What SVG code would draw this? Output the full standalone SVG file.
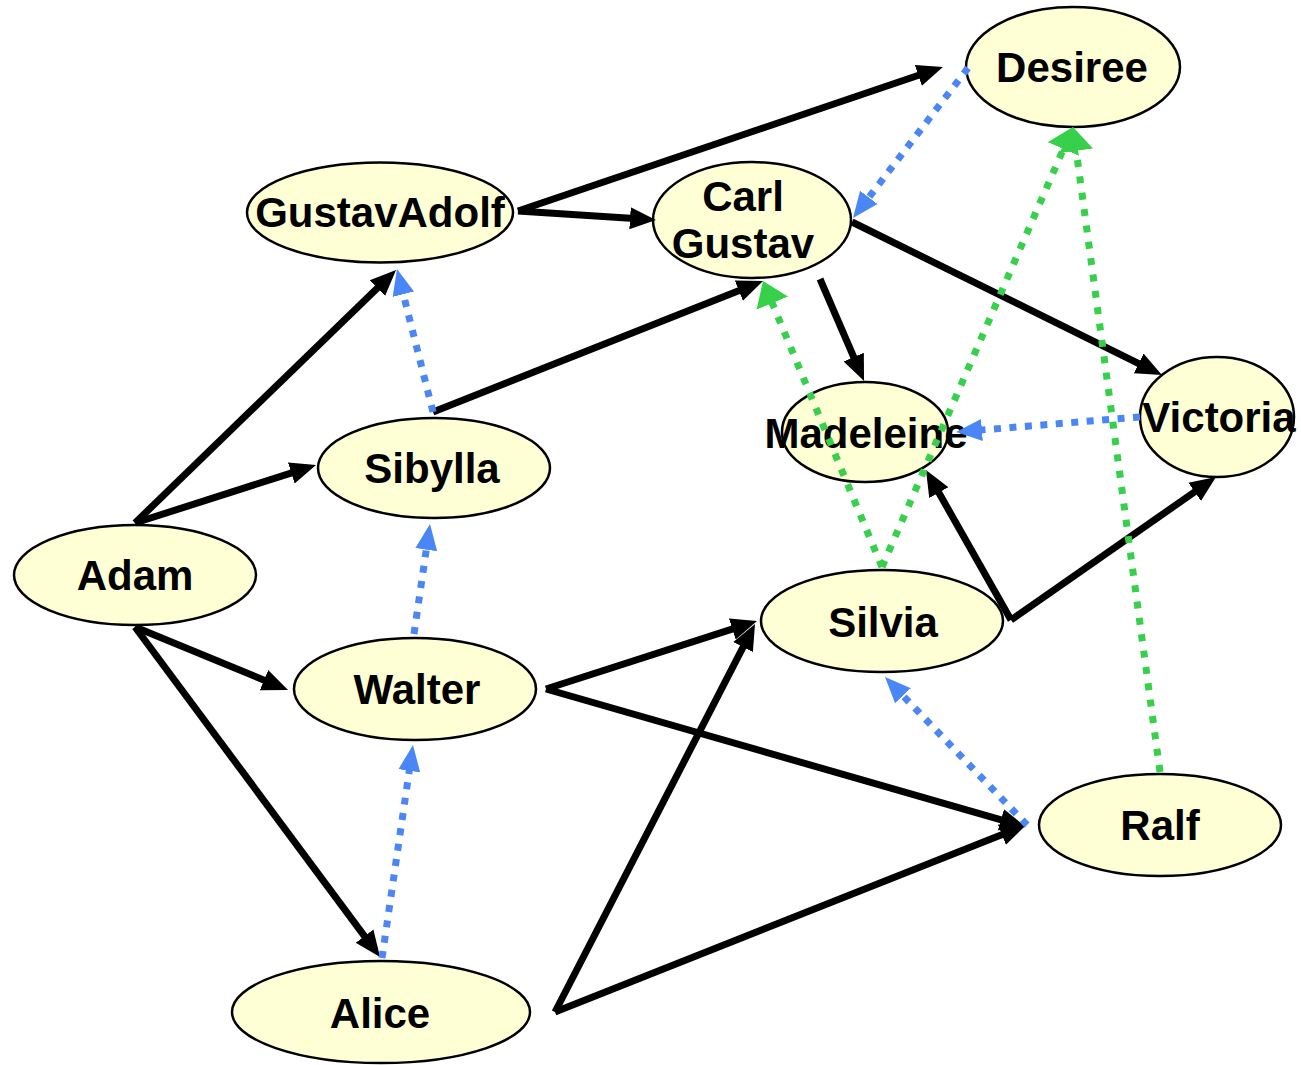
<svg xmlns="http://www.w3.org/2000/svg" width="1301" height="1065" viewBox="0 0 1301 1065">
<style>
.node ellipse{fill:#ffffd6;stroke:#000;stroke-width:2.5}
.node text{font-family:"Liberation Sans",Arial,sans-serif;font-weight:bold;font-size:42px;fill:#000;text-anchor:middle}
.k{stroke:#000;stroke-width:7;fill:none;marker-end:url(#ak)}
.b{stroke:#4a86f5;stroke-width:7;fill:none;stroke-dasharray:7 8.5;marker-end:url(#ab)}
.g{stroke:#36d04a;stroke-width:7;fill:none;stroke-dasharray:7 9.5;marker-end:url(#ag)}
</style>
<defs>
<marker id="ak" markerUnits="userSpaceOnUse" markerWidth="26" markerHeight="24" refX="12" refY="11" orient="auto" viewBox="0 0 26 22"><path d="M0,0 L26,11 L0,22 z" fill="#000"/></marker>
<marker id="ab" markerUnits="userSpaceOnUse" markerWidth="26" markerHeight="24" refX="12" refY="11" orient="auto" viewBox="0 0 26 22"><path d="M0,0 L26,11 L0,22 z" fill="#4a86f5"/></marker>
<marker id="ag" markerUnits="userSpaceOnUse" markerWidth="24" markerHeight="34" refX="10" refY="17" orient="auto" viewBox="0 0 24 34"><path d="M0,0 L24,17 L0,34 z" fill="#36d04a"/></marker>
</defs>
<rect width="1301" height="1065" fill="#fff"/>
<g id="nodes">
<g id="GustavAdolf" class="node"><ellipse cx="380" cy="212.5" rx="133" ry="50"/><text x="380" y="227">GustavAdolf</text></g>
<g id="CarlGustav" class="node"><ellipse cx="752" cy="220" rx="99" ry="58"/><text x="743" y="211">Carl</text><text x="743" y="258">Gustav</text></g>
<g id="Desiree" class="node"><ellipse cx="1073" cy="67" rx="107" ry="60"/><text x="1072" y="82">Desiree</text></g>
<g id="Madeleine" class="node"><ellipse cx="865" cy="432" rx="83" ry="50"/><text x="866" y="448">Madeleine</text></g>
<g id="Victoria" class="node"><ellipse cx="1217" cy="417" rx="77" ry="60"/><text x="1219" y="432">Victoria</text></g>
<g id="Sibylla" class="node"><ellipse cx="434" cy="468" rx="116" ry="50"/><text x="432" y="483">Sibylla</text></g>
<g id="Adam" class="node"><ellipse cx="135" cy="575" rx="121" ry="50"/><text x="135" y="590">Adam</text></g>
<g id="Walter" class="node"><ellipse cx="415" cy="689" rx="121" ry="51"/><text x="417" y="704">Walter</text></g>
<g id="Silvia" class="node"><ellipse cx="882" cy="621" rx="121" ry="51"/><text x="883" y="637">Silvia</text></g>
<g id="Ralf" class="node"><ellipse cx="1160" cy="825" rx="121" ry="51"/><text x="1160" y="840">Ralf</text></g>
<g id="Alice" class="node"><ellipse cx="381" cy="1012" rx="149" ry="51"/><text x="380" y="1028">Alice</text></g>
</g>
<g id="connectors">
<line class="k" x1="135" y1="523" x2="386" y2="279.7"/>
<line class="k" x1="135" y1="523" x2="302.7" y2="469.3"/>
<line class="k" x1="135" y1="627" x2="275.1" y2="684.7"/>
<line class="k" x1="135" y1="627" x2="371.7" y2="945.8"/>
<line class="k" x1="518" y1="211" x2="929.7" y2="71.5"/>
<line class="k" x1="518" y1="211" x2="642" y2="219.1"/>
<line class="k" x1="433" y1="412" x2="750" y2="286.2"/>
<line class="k" x1="852" y1="222" x2="1149.4" y2="368.8"/>
<line class="k" x1="820" y1="279" x2="858.5" y2="368.1"/>
<line class="k" x1="546" y1="689" x2="743.7" y2="625.3"/>
<line class="k" x1="546" y1="689" x2="1012.5" y2="823.1"/>
<line class="k" x1="555" y1="1012" x2="748.6" y2="636.4"/>
<line class="k" x1="555" y1="1012" x2="1013" y2="830.2"/>
<line class="k" x1="1011" y1="620" x2="932.9" y2="482.2"/>
<line class="k" x1="1011" y1="620" x2="1204.5" y2="485"/>
<line class="b" x1="968" y1="68" x2="861.5" y2="206.9"/>
<line class="b" x1="433" y1="412" x2="400.4" y2="282.6"/>
<line class="b" x1="414" y1="634" x2="428" y2="537.8"/>
<line class="b" x1="382" y1="958" x2="411" y2="758.9"/>
<line class="b" x1="1140" y1="417" x2="970" y2="430.9"/>
<line class="b" x1="1027" y1="825" x2="894.7" y2="687.1"/>
<line class="g" x1="882" y1="567" x2="768.4" y2="293.9"/>
<line class="g" x1="882" y1="567" x2="1067.4" y2="139.8"/>
<line class="g" x1="1160" y1="772" x2="1074.9" y2="140.9"/>
</g>
</svg>
